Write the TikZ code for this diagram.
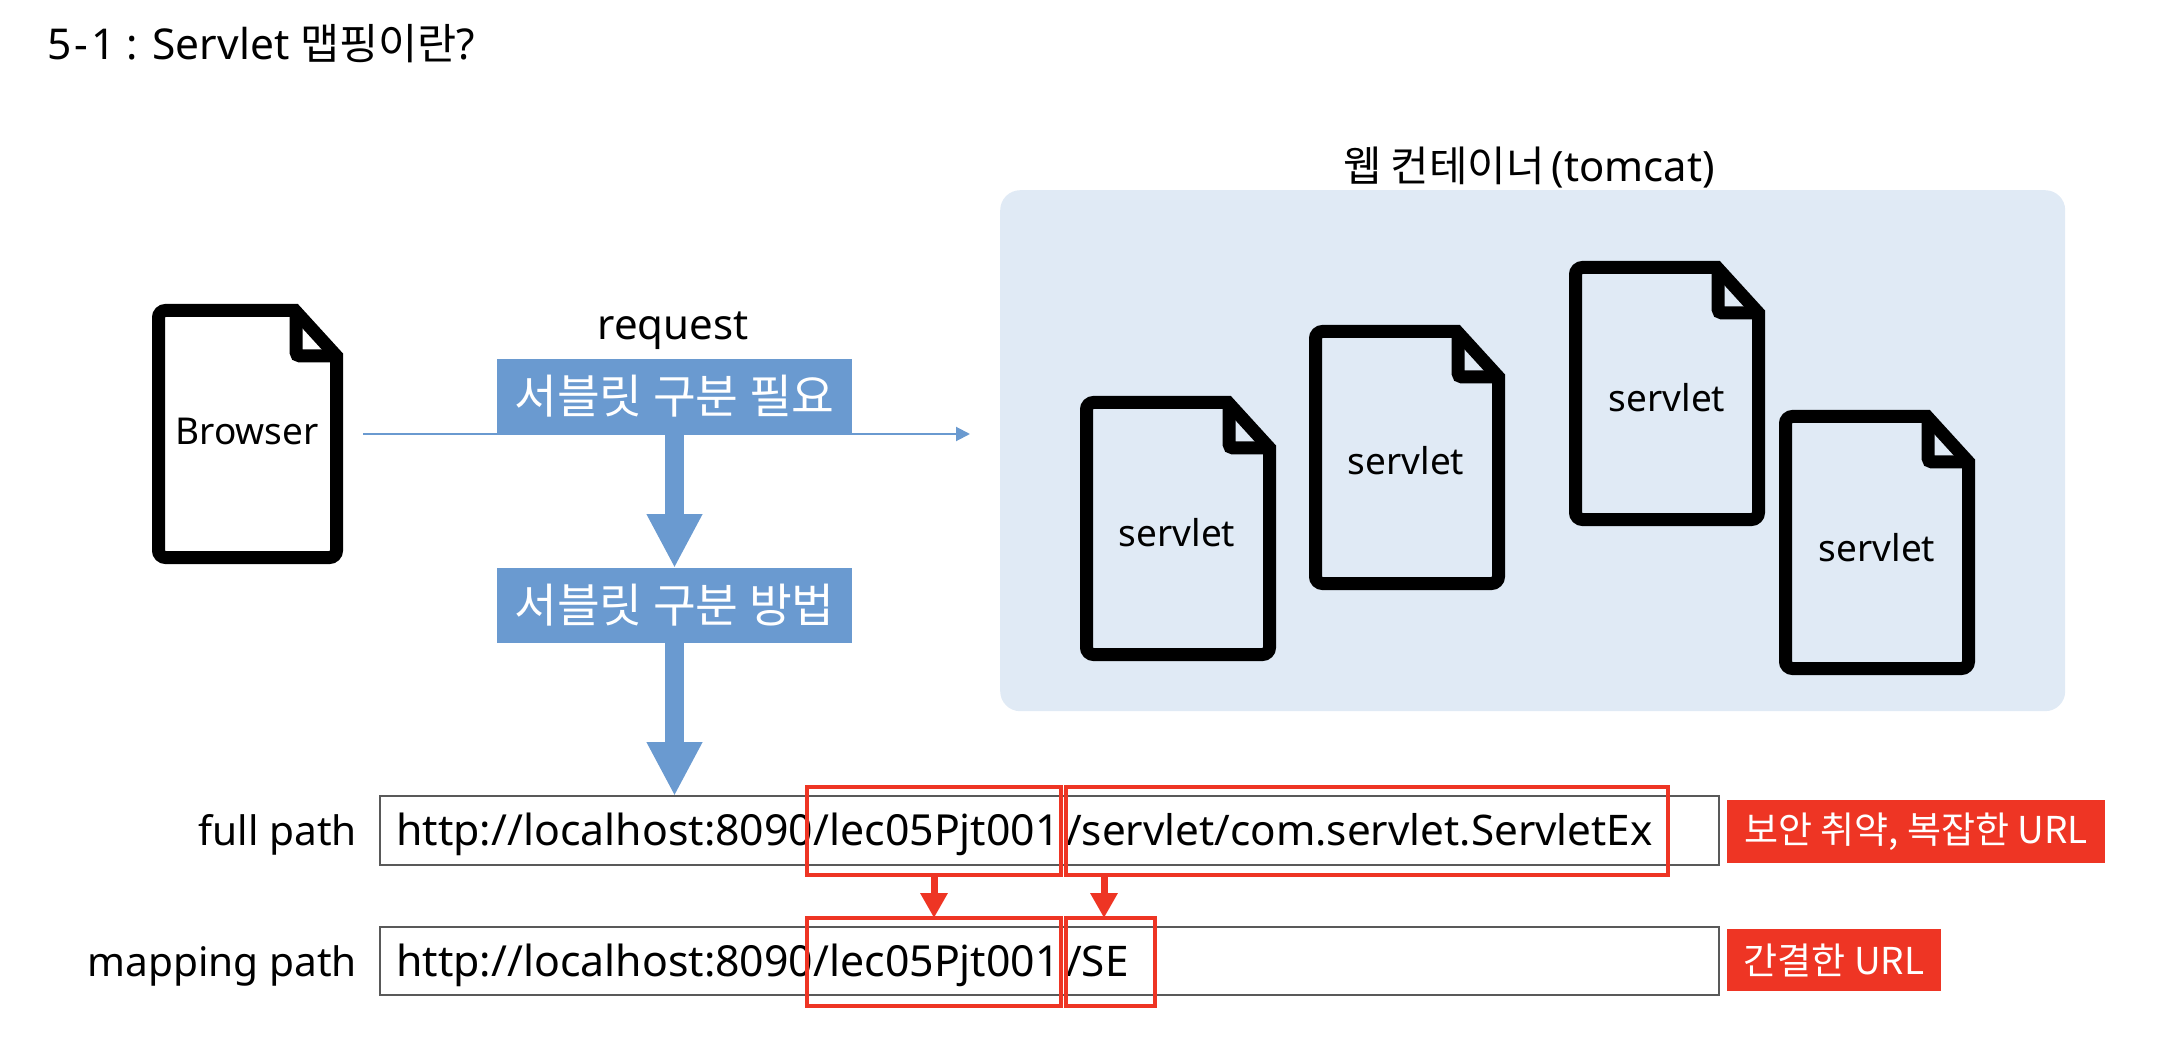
\documentclass[tikz,border=0pt]{standalone}
\usepackage{fontspec}
\setmainfont{Noto Sans}
\newfontfamily\kr{Noto Sans CJK KR}
\usetikzlibrary{arrows.meta,calc}
\definecolor{blu}{HTML}{6A9AD0}
\definecolor{rd}{HTML}{EE3524}
\definecolor{pan}{HTML}{E0EAF5}
\newcommand{\fs}[1]{\fontsize{#1}{#1}\selectfont}
\tikzset{
  x=1pt,y=-1pt,
  panelbox/.style={fill=pan,rounded corners=20pt,draw=none},
  bluebox/.style={fill=blu,text=white,anchor=north west,inner sep=0,outer sep=0,font=\kr\fs{46.5}},
  urlbox/.style={draw=black!65,line width=1.5pt,fill=white,anchor=north west,inner sep=0,outer sep=0},
  redframe/.style={draw=rd,line width=3.5pt,anchor=north west,inner sep=0,outer sep=0},
  redtag/.style={fill=rd,text=white,anchor=north west,inner sep=0,outer sep=0,font=\kr\fs{37}},
  urltext/.style={anchor=base west,inner sep=0,font=\fs{42.8}},
  urltextb/.style={anchor=base west,inner sep=0,font=\fs{42.2}},
  sidetext/.style={anchor=base east,inner sep=0,font=\fs{40.6}},
  doctext/.style={inner sep=0,font=\fs{37}},
  thinarrow/.style={draw=blu,line width=2pt,-{Triangle[width=14pt,length=14pt]}},
  bigarrow/.style={draw=blu,line width=19pt,-{Triangle[width=52pt,length=54pt]}},
  redarrow/.style={draw=rd,line width=7pt,-{Triangle[width=26pt,length=25pt]}},
  docline/.style={draw=black,line width=13pt,miter limit=10}
}
% #1 name, #2 x, #3 y, #4 label position, #5 text, #6 outer width, #7 outer height
\newcommand{\docsym}[7]{%
  \begin{scope}[shift={(#2,#3)}]
    \draw[docline] (6.5,130) [rounded corners=7pt] -- (6.5,6.5) [sharp corners] -- ({#6-48},6.5) -- ({#6-6.5},52) [rounded corners=7pt] -- ({#6-6.5},{#7-6.5}) -- (6.5,{#7-6.5}) -- cycle;
    \draw[docline,rounded corners=4pt] ({#6-47},6.5) -- ({#6-47},52) -- ({#6-6.5},52);
  \end{scope}
  \node[doctext] (#1) at (#4) {#5};
}
\begin{document}
\begin{tikzpicture}
\useasboundingbox (0,0) rectangle (2164,1064);
\node[anchor=base west,inner sep=0,font=\fs{42.5}] (title) at (47,60) {5\kern3pt-\kern3pt1 : Servlet {\kr 맵핑이란}?};
\node[anchor=north west,panelbox,minimum width=1065pt,minimum height=521pt,inner sep=0] (panel) at (1000,190) {};
\node[inner sep=0,font=\fs{41.8}] (ptitle) at (1529,168) {{\kr 웹 컨테이너}\,(tomcat)};
\docsym{browser}{152}{304}{247,431}{Browser}{191}{260}
\docsym{s1}{1080}{396}{1177,533}{servlet}{196}{265}
\docsym{s2}{1309}{325}{1406,461}{servlet}{196}{265}
\docsym{s3}{1569}{261}{1667,398}{servlet}{196}{265}
\docsym{s4}{1779}{410}{1877,548}{servlet}{196}{265}
\node[inner sep=0,font=\fs{42}] (req) at (673,331) {request};
\coordinate (ls) at (363,434);
\coordinate (le) at (970,434);
\draw[thinarrow] (ls) -- (le);
\node[bluebox,minimum width=355pt,minimum height=75pt] (need) at (497,359) {서블릿 구분 필요};
\node[bluebox,minimum width=355pt,minimum height=75pt] (how) at (497,568) {서블릿 구분 방법};
\node[urlbox,minimum width=1339pt,minimum height=69pt] (full) at (380,796) {};
\node[urlbox,minimum width=1339pt,minimum height=68pt] (map) at (380,927) {};
\draw[bigarrow] (need.south) -- (how.north);
\draw[bigarrow] (how.south) -- (how.south |- full.north);
\node[urltext] (fullu) at (396,845) {http://localhost:8090/lec05Pjt001};
\node[urltextb] (fullv) at (1066,845) {/servlet/com.servlet.ServletEx};
\node[urltext] (mapu) at (396,976) {http://localhost:8090/lec05Pjt001};
\node[urltextb] (mapv) at (1066,976) {/SE};
\node[sidetext] (fl) at (357,845) {full path};
\node[sidetext] (ml) at (357,976) {mapping path};
\node[redframe,minimum width=254pt,minimum height=88pt] (ra) at (807,787) {};
\node[redframe,minimum width=602pt,minimum height=88pt] (rb) at (1066,787) {};
\node[redframe,minimum width=254pt,minimum height=88pt] (rc) at (807,918) {};
\node[redframe,minimum width=89pt,minimum height=88pt] (rd) at (1066,918) {};
\draw[redarrow] (ra.south) -- (ra.south |- rc.north);
\coordinate (rx) at (1104,900);
\draw[redarrow] (rx |- rb.south) -- (rx |- rd.north);
\node[redtag,minimum width=378pt,minimum height=63pt] (t1) at (1727,800) {보안 취약, 복잡한 URL};
\node[redtag,minimum width=214pt,minimum height=62pt] (t2) at (1727,929) {간결한 URL};
\end{tikzpicture}
\end{document}
